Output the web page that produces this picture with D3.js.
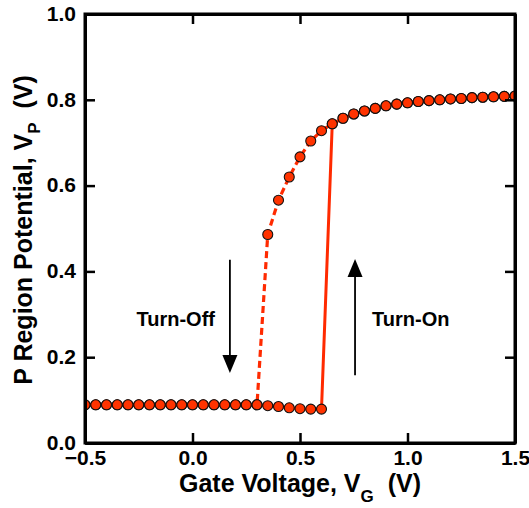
<!DOCTYPE html>
<html>
<head>
<meta charset="utf-8">
<script src="https://cdn.jsdelivr.net/npm/d3@7/dist/d3.min.js"></script>
<style>
  html, body { margin: 0; padding: 0; background: #fff; }
  text { font-family: "Liberation Sans", Arial, Helvetica, sans-serif; font-weight: bold; fill: #000; }
</style>
</head>
<body>
<svg id="chart" width="529" height="508"></svg>
<script>
// ---- data ----
const gateVoltage = [-0.5,-0.45,-0.4,-0.35,-0.3,-0.25,-0.2,-0.15,-0.1,-0.05,0.0,0.05,0.1,0.15,0.2,0.25,0.3,
  0.35,0.4,0.45,0.5,0.55,0.6,0.65,0.7,0.75,0.8,0.85,0.9,0.95,1.0,1.05,1.1,1.15,1.2,1.25,1.3,1.35,1.4,1.45,1.5];
const turnOffVp = [0.089,0.089,0.089,0.089,0.089,0.089,0.089,0.089,0.089,0.089,0.089,0.089,0.089,0.089,0.089,0.089,0.089,
  0.486,0.566,0.620,0.667,0.704,0.728,0.744,0.757,0.767,0.774,0.780,0.786,0.790,0.793,0.796,0.798,0.800,0.802,0.803,0.805,0.806,0.807,0.808,0.809];
const turnOnVp = [0.089,0.089,0.089,0.089,0.089,0.089,0.089,0.089,0.089,0.089,0.089,0.089,0.089,0.089,0.089,0.089,0.089,
  0.087,0.085,0.082,0.080,0.079,0.079,0.744,0.757,0.767,0.774,0.780,0.786,0.790,0.793,0.796,0.798,0.800,0.802,0.803,0.805,0.806,0.807,0.808,0.809];
const xTicks = [-0.5, 0.0, 0.5, 1.0, 1.5];
const yTicks = [0.0, 0.2, 0.4, 0.6, 0.8, 1.0];
const xTickLabels = ["\u22120.5", "0.0", "0.5", "1.0", "1.5"];
const yTickLabels = ["0.0", "0.2", "0.4", "0.6", "0.8", "1.0"];
// annotations: label, text anchor point, arrow from -> to (data units)
const annLabels = ["Turn-Off", "Turn-On"];
const annTextX = [-0.078, 1.015];
const annTextY = [0.273, 0.273];
const arrowX = [0.174, 0.756];
const arrowFromY = [0.427, 0.158];
const arrowToY = [0.163, 0.429];

// ---- layout ----
const svg = d3.select("#chart");
const L = 85, R = 515, T = 14, B = 443;
const x = d3.scaleLinear().domain([-0.5, 1.5]).range([L, R]);
const y = d3.scaleLinear().domain([0, 1]).range([B, T]);
const red = "#ff2a00";
const markerFill = "#ff3300";

svg.append("defs").append("clipPath").attr("id", "plotclip")
  .append("rect").attr("x", L).attr("y", T).attr("width", R - L).attr("height", B - T);

const plot = svg.append("g").attr("clip-path", "url(#plotclip)");

const offData = gateVoltage.map((v, i) => [v, turnOffVp[i]]);
const onData = gateVoltage.map((v, i) => [v, turnOnVp[i]]);
const line = d3.line().x(d => x(d[0])).y(d => y(d[1]));

plot.append("path").datum(onData).attr("d", line)
  .attr("fill", "none").attr("stroke", red).attr("stroke-width", 3);
plot.append("path").datum(offData).attr("d", line)
  .attr("fill", "none").attr("stroke", red).attr("stroke-width", 3.2)
  .attr("stroke-dasharray", "7,4");

const allPts = onData.concat(offData);
plot.selectAll("circle").data(allPts).join("circle")
  .attr("cx", d => x(d[0])).attr("cy", d => y(d[1])).attr("r", 5)
  .attr("fill", markerFill).attr("stroke", "#111").attr("stroke-width", 1.1);

// ---- axes (frame with inward ticks) ----
const tickLen = 10;
const axB = svg.append("g").attr("transform", `translate(0,${B})`)
  .call(d3.axisBottom(x).tickValues(xTicks).tickSizeInner(-tickLen).tickSizeOuter(0).tickFormat((d, i) => xTickLabels[i]));
const axT = svg.append("g").attr("transform", `translate(0,${T})`)
  .call(d3.axisTop(x).tickValues(xTicks).tickSizeInner(-tickLen).tickSizeOuter(0).tickFormat(""));
const axL = svg.append("g").attr("transform", `translate(${L},0)`)
  .call(d3.axisLeft(y).tickValues(yTicks).tickSizeInner(-tickLen).tickSizeOuter(0).tickFormat((d, i) => yTickLabels[i]));
const axR = svg.append("g").attr("transform", `translate(${R},0)`)
  .call(d3.axisRight(y).tickValues(yTicks).tickSizeInner(-tickLen).tickSizeOuter(0).tickFormat(""));

[axB, axT, axL, axR].forEach(a => {
  a.select(".domain").attr("stroke", "#000").attr("stroke-width", 3);
  a.selectAll(".tick line").attr("stroke", "#000").attr("stroke-width", 2.5);
  a.selectAll("text").attr("font-family", null).style("font-size", "21px").attr("fill", "#000");
});
axB.selectAll(".tick text").attr("dy", null).attr("y", 22);
axL.selectAll(".tick text").attr("x", -9).attr("dy", "0.3em");
svg.append("rect").attr("x", L).attr("y", T).attr("width", R - L).attr("height", B - T)
  .attr("fill", "none").attr("stroke", "#000").attr("stroke-width", 3);

// ---- axis titles ----
const xt = svg.append("text").attr("x", (L + R) / 2).attr("y", 492)
  .attr("text-anchor", "middle").style("font-size", "25px");
xt.append("tspan").text("Gate Voltage, V");
xt.append("tspan").attr("dy", 10).style("font-size", "17px").text("G");
xt.append("tspan").attr("dy", -10).text("\u00a0 (V)");

const yt = svg.append("text").attr("transform", `translate(32,230) rotate(-90)`)
  .attr("text-anchor", "middle").style("font-size", "25px");
yt.append("tspan").text("P Region Potential, V");
yt.append("tspan").attr("dy", 8).style("font-size", "17px").text("P");
yt.append("tspan").attr("dy", -8).text("\u00a0 (V)");

// ---- annotations ----
annLabels.forEach((lab, i) => {
  svg.append("text").attr("x", x(annTextX[i])).attr("y", y(annTextY[i]))
    .attr("text-anchor", "middle").style("font-size", "20px").text(lab);
  const ax = x(arrowX[i]), y0 = y(arrowFromY[i]), y1 = y(arrowToY[i]);
  const dir = Math.sign(y1 - y0), headL = 18, headW = 7.5;
  svg.append("line").attr("x1", ax).attr("x2", ax).attr("y1", y0).attr("y2", y1 - dir * headL * 0.8)
    .attr("stroke", "#000").attr("stroke-width", 1.8);
  svg.append("path")
    .attr("d", `M${ax},${y1} L${ax - headW},${y1 - dir * headL} L${ax + headW},${y1 - dir * headL} Z`)
    .attr("fill", "#000");
});
</script>
</body>
</html>
